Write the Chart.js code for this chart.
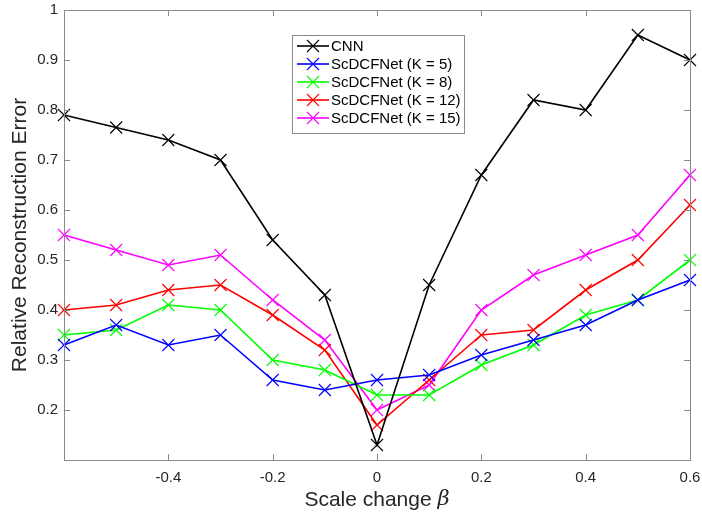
<!DOCTYPE html>
<html>
<head>
<meta charset="utf-8">
<script src="https://cdn.jsdelivr.net/npm/chart.js@4"></script>
<style>
  html, body { margin: 0; padding: 0; background: #fff; }
  #wrap { width: 702px; height: 512px; }
</style>
</head>
<body>
<div id="wrap"><canvas id="chart" width="702" height="512"></canvas></div>
<script>
// scale change values (x axis)
const betas = [-0.6, -0.5, -0.4, -0.3, -0.2, -0.1, 0, 0.1, 0.2, 0.3, 0.4, 0.5, 0.6];

// relative reconstruction error per model
const cnn   = [0.79, 0.765, 0.74, 0.70, 0.54, 0.43, 0.13, 0.45, 0.67, 0.82, 0.80, 0.95, 0.90];
const k5    = [0.33, 0.37, 0.33, 0.35, 0.26, 0.24, 0.26, 0.27, 0.31, 0.34, 0.37, 0.42, 0.46];
const k8    = [0.35, 0.36, 0.41, 0.40, 0.30, 0.28, 0.23, 0.23, 0.29, 0.33, 0.39, 0.42, 0.50];
const k12   = [0.40, 0.41, 0.44, 0.45, 0.39, 0.32, 0.17, 0.26, 0.35, 0.36, 0.44, 0.50, 0.61];
const k15   = [0.55, 0.52, 0.49, 0.51, 0.42, 0.34, 0.20, 0.25, 0.40, 0.47, 0.51, 0.55, 0.67];

const seriesNames = ['CNN', 'ScDCFNet (K = 5)', 'ScDCFNet (K = 8)', 'ScDCFNet (K = 12)', 'ScDCFNet (K = 15)'];
const seriesColors = ['#000000', '#0000ff', '#00ff00', '#ff0000', '#ff00ff'];
const seriesValues = [cnn, k5, k8, k12, k15];

const FONT = '"Liberation Sans", Arial, Helvetica, sans-serif';
const TEXT = '#262626';
const AXIS = '#8a8a8a';

function makeDataset(i) {
    return {
        label: seriesNames[i],
        data: betas.map((b, j) => ({ x: b, y: seriesValues[i][j] })),
        borderColor: seriesColors[i],
        backgroundColor: seriesColors[i],
        borderWidth: 1.6,
        pointStyle: 'crossRot',
        pointRadius: 8.5,
        pointHoverRadius: 8.5,
        pointBorderWidth: 1.1,
        tension: 0,
        clip: false
    };
}

// box around the axes with inward tick marks, like MATLAB
const boxPlugin = {
    id: 'matlabBox',
    afterDatasetsDraw(chart) {
        const { ctx, chartArea: a, scales } = chart;
        ctx.save();
        ctx.strokeStyle = AXIS;
        ctx.lineWidth = 1;
        ctx.strokeRect(a.left + 0.5, a.top + 0.5, a.right - a.left, a.bottom - a.top);
        const len = 6;
        ctx.beginPath();
        scales.x.ticks.forEach(t => {
            const px = Math.round(scales.x.getPixelForValue(t.value)) + 0.5;
            ctx.moveTo(px, a.bottom); ctx.lineTo(px, a.bottom - len);
            ctx.moveTo(px, a.top); ctx.lineTo(px, a.top + len);
        });
        scales.y.ticks.forEach(t => {
            const py = Math.round(scales.y.getPixelForValue(t.value)) + 0.5;
            ctx.moveTo(a.left, py); ctx.lineTo(a.left + len, py);
            ctx.moveTo(a.right, py); ctx.lineTo(a.right - len, py);
        });
        ctx.stroke();
        ctx.restore();
    }
};

// legend box inside the plot, upper middle
const legendPlugin = {
    id: 'insideLegend',
    afterDraw(chart) {
        const { ctx } = chart;
        const x0 = 292, y0 = 35, w = 172, rowH = 18;
        const h = seriesNames.length * rowH + 8;
        ctx.save();
        ctx.fillStyle = '#fff';
        ctx.fillRect(x0, y0, w, h);
        ctx.strokeStyle = AXIS;
        ctx.lineWidth = 1;
        ctx.strokeRect(x0 + 0.5, y0 + 0.5, w, h);
        ctx.font = '15px ' + FONT;
        ctx.textBaseline = 'middle';
        seriesNames.forEach((name, i) => {
            const cy = y0 + 11 + i * rowH;
            ctx.strokeStyle = seriesColors[i];
            ctx.lineWidth = 1.6;
            ctx.beginPath();
            ctx.moveTo(x0 + 5, cy); ctx.lineTo(x0 + 37, cy);
            ctx.stroke();
            ctx.lineWidth = 1.1;
            const cx = x0 + 21, r = 6;
            ctx.beginPath();
            ctx.moveTo(cx - r, cy - r); ctx.lineTo(cx + r, cy + r);
            ctx.moveTo(cx - r, cy + r); ctx.lineTo(cx + r, cy - r);
            ctx.stroke();
            ctx.fillStyle = '#000';
            ctx.fillText(name, x0 + 39, cy + 1);
        });
        ctx.restore();
    }
};

// x title with italic beta
const xTitlePlugin = {
    id: 'xTitle',
    afterDraw(chart) {
        const { ctx, chartArea: a } = chart;
        const part1 = 'Scale change ';
        const part2 = 'β';
        ctx.save();
        ctx.fillStyle = TEXT;
        ctx.textBaseline = 'middle';
        ctx.font = '21px ' + FONT;
        const w1 = ctx.measureText(part1).width;
        ctx.font = 'italic 21px "DejaVu Serif", serif';
        const w2 = ctx.measureText(part2).width;
        const start = (a.left + a.right) / 2 - (w1 + w2) / 2;
        const y = 500;
        ctx.font = '21px ' + FONT;
        ctx.fillText(part1, start, y);
        ctx.font = 'italic 21px "DejaVu Serif", serif';
        ctx.fillText(part2, start + w1, y);
        ctx.restore();
    }
};

const ctx = document.getElementById('chart').getContext('2d');
new Chart(ctx, {
    type: 'line',
    data: { datasets: seriesValues.map((_, i) => makeDataset(i)) },
    options: {
        responsive: false,
        animation: false,
        layout: { padding: { top: 10, right: 12, left: 0, bottom: 0 } },
        plugins: {
            legend: { display: false },
            tooltip: { enabled: false }
        },
        scales: {
            x: {
                type: 'linear',
                min: -0.6,
                max: 0.6,
                grid: { display: false, drawTicks: false },
                border: { display: false },
                ticks: {
                    stepSize: 0.2,
                    padding: 9,
                    color: TEXT,
                    font: { family: FONT, size: 15 },
                    callback: v => (Math.abs(v + 0.6) < 1e-6 ? '' : String(Number(v.toFixed(1))))
                },
                afterFit(scale) {
                    scale.height = 52;
                    scale.paddingLeft = 0;
                    scale.paddingRight = 0;
                }
            },
            y: {
                min: 0.1,
                max: 1,
                grid: { display: false, drawTicks: false },
                border: { display: false },
                title: {
                    display: true,
                    text: 'Relative Reconstruction Error',
                    color: TEXT,
                    font: { family: FONT, size: 21 },
                    padding: { top: 8, bottom: 0 }
                },
                ticks: {
                    stepSize: 0.1,
                    padding: 6,
                    color: TEXT,
                    font: { family: FONT, size: 15 },
                    callback: v => (v < 0.15 ? '' : String(Number(v.toFixed(1))))
                },
                afterFit(scale) {
                    scale.width = 64;
                    scale.paddingTop = 0;
                    scale.paddingBottom = 0;
                }
            }
        }
    },
    plugins: [boxPlugin, legendPlugin, xTitlePlugin]
});
</script>
</body>
</html>
